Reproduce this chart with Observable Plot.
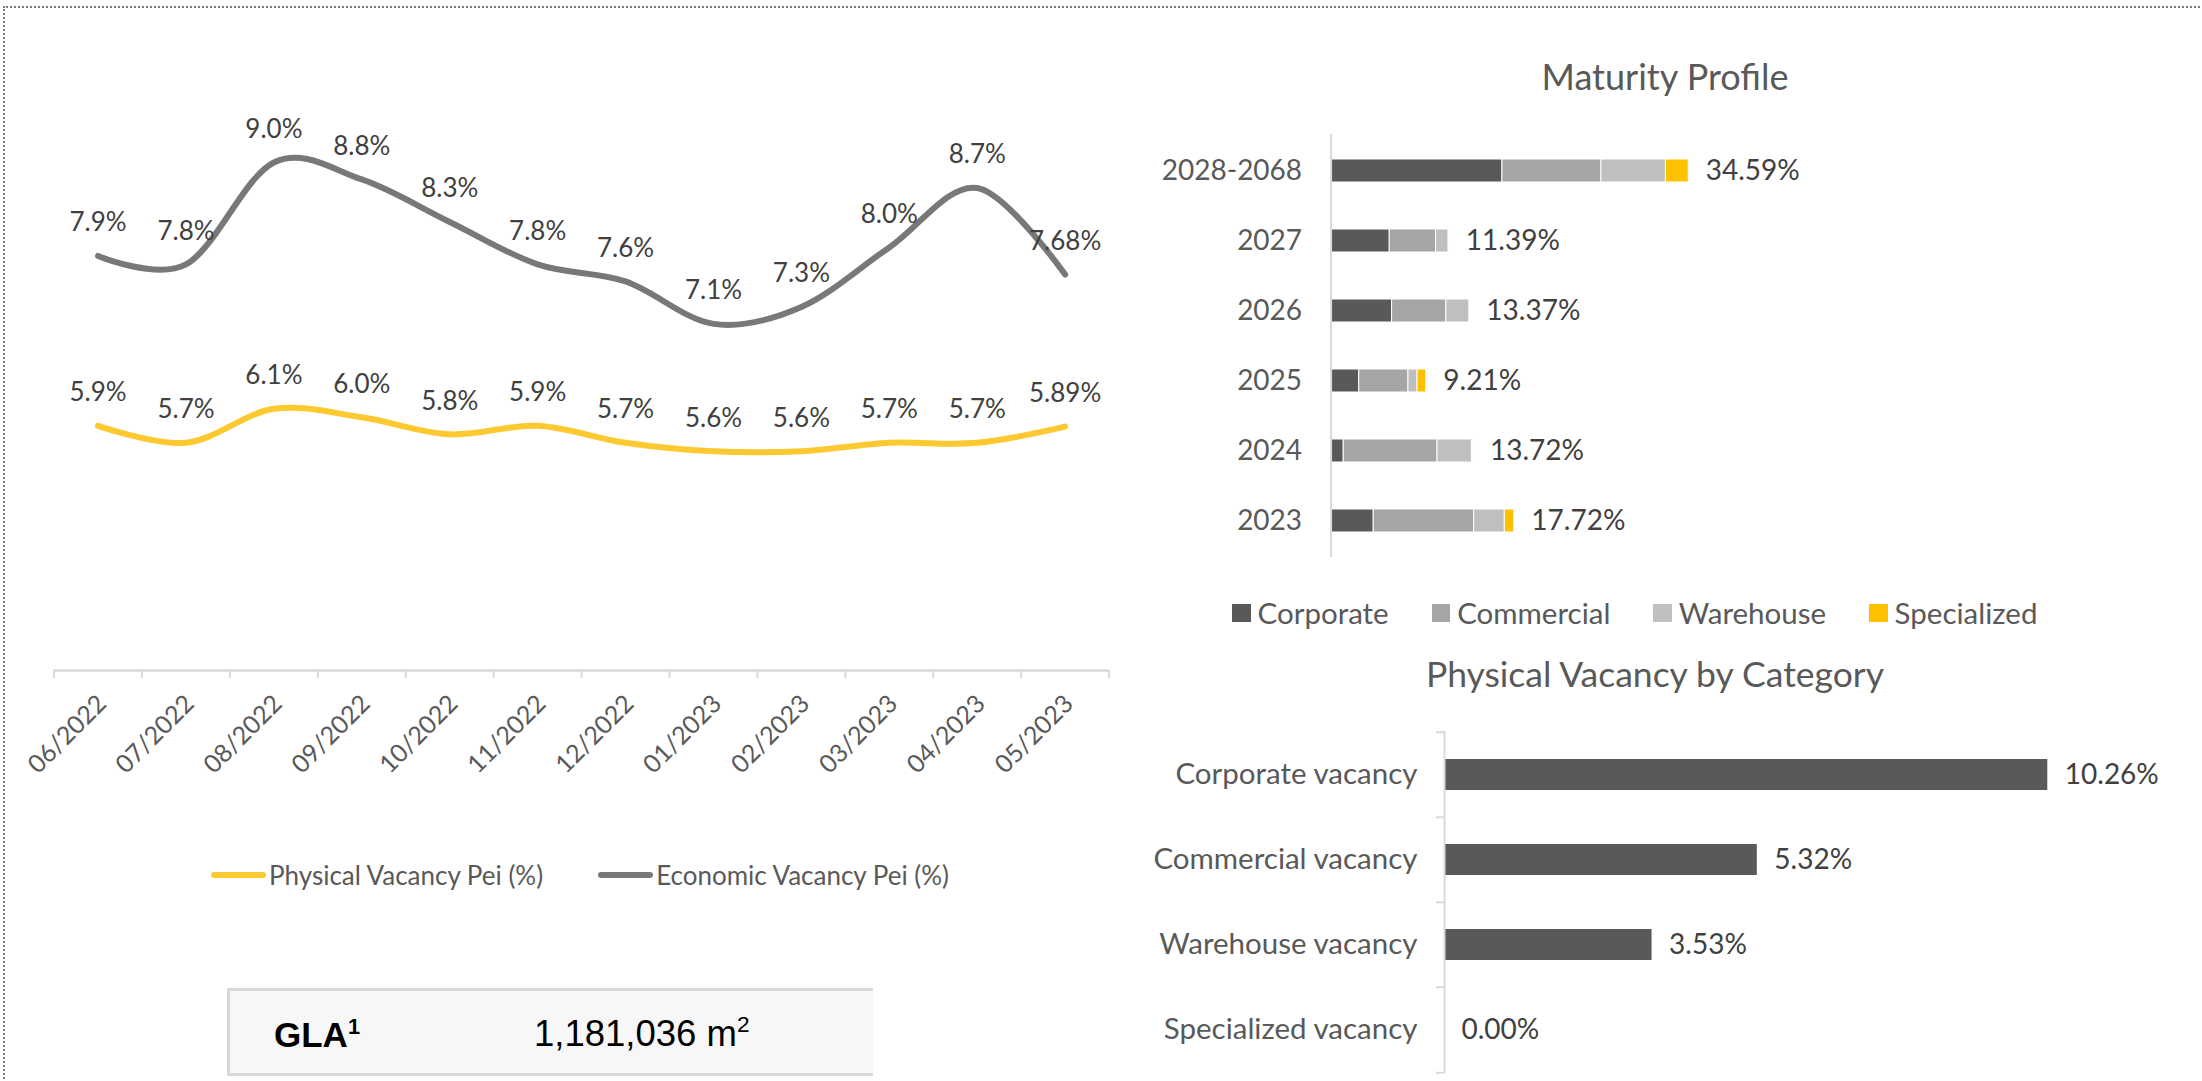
<!DOCTYPE html>
<html>
<head>
<meta charset="utf-8">
<script src="https://cdn.jsdelivr.net/npm/d3@7"></script>
<script src="https://cdn.jsdelivr.net/npm/@observablehq/plot@0.6"></script>
<style>
  html, body { margin: 0; padding: 0; background: #fff; }
  #root { position: relative; width: 2202px; height: 1081px; overflow: hidden; background: #fff; font-family: Lato, sans-serif; }
  .abs { position: absolute; }
  .frame { left: 3px; top: 6px; width: 2300px; height: 1200px; border-top: 2px dotted #7a7a7a; border-left: 2px dotted #7a7a7a; box-sizing: border-box; }
  .title { line-height: 1; color: #595959; text-align: center; white-space: nowrap; }
  .legend { display: flex; align-items: center; white-space: nowrap; }
  .legend .item { display: flex; align-items: center; }
  .gla { left: 227px; top: 988px; width: 646px; height: 88px; background: #f7f7f7; border-top: 3px solid #d9d9d9; border-left: 3px solid #d9d9d9; border-bottom: 3px solid #d9d9d9; box-sizing: border-box; }
  .glatxt { font-family: "Liberation Sans", Arial, sans-serif; font-size: 35px; line-height: 1; color: #000; white-space: nowrap; }
  .glatxt sup { font-size: 0.62em; line-height: 0; vertical-align: 0.62em; }
</style>
</head>
<body>
<div id="root">
  <div class="abs frame"></div>
  <div id="line" class="abs" style="left:0px; top:0px;"></div>
  <div id="lineLegend" class="abs legend" style="left:211px; top:862px; height:26px; gap:55px;"></div>
  <div class="abs gla"></div>
  <div class="abs glatxt" style="left:274px; top:1017px; font-weight:bold;">GLA<sup>1</sup></div>
  <div class="abs glatxt" style="left:534px; top:1016px; font-size:36.5px;">1,181,036 m<sup>2</sup></div>

  <div class="abs title" style="left:1465px; width:400px; top:58px; font-size:36px;">Maturity Profile</div>
  <div id="maturity" class="abs" style="left:1120px; top:100px;"></div>
  <div id="matLegend" class="abs legend" style="left:1232px; top:597px; height:32px; gap:43px;"></div>

  <div class="abs title" style="left:1405px; width:500px; top:656px; font-size:35.5px;">Physical Vacancy by Category</div>
  <div id="vacancy" class="abs" style="left:1120px; top:700px;"></div>
</div>
<script>
// ---------- Data ----------
const months = ["06/2022","07/2022","08/2022","09/2022","10/2022","11/2022","12/2022","01/2023","02/2023","03/2023","04/2023","05/2023"];
const physicalVacancy = [5.9, 5.7, 6.1, 6.0, 5.8, 5.9, 5.7, 5.6, 5.6, 5.7, 5.7, 5.89];
const economicVacancy = [7.9, 7.8, 9.0, 8.8, 8.3, 7.8, 7.6, 7.1, 7.3, 8.0, 8.7, 7.68];
const seriesNames = ["Physical Vacancy Pei (%)", "Economic Vacancy Pei (%)"];
const seriesColors = ["#fcc931", "#787878"];

const maturityYears = ["2028-2068", "2027", "2026", "2025", "2024", "2023"];
const maturityCats = ["Corporate", "Commercial", "Warehouse", "Specialized"];
const corporate   = [16.57, 5.67, 5.90, 2.72, 1.22, 4.12];
const commercial  = [ 9.57, 4.48, 5.25, 4.76, 9.07, 9.72];
const warehouse   = [ 6.24, 1.22, 2.22, 0.88, 3.33, 2.96];
const specialized = [ 2.21, 0.02, 0.00, 0.85, 0.10, 0.92];
const maturityTotals = [34.59, 11.39, 13.37, 9.21, 13.72, 17.72];
const maturityColors = ["#595959", "#a5a5a5", "#bfbfbf", "#ffc000"];

const vacancyCats = ["Corporate vacancy", "Commercial vacancy", "Warehouse vacancy", "Specialized vacancy"];
const vacancyValues = [10.26, 5.32, 3.53, 0.00];
const vacancyColor = "#595959";

// ---------- Helpers ----------
const fmtPct = v => (Math.abs(v * 10 - Math.round(v * 10)) < 1e-9 ? v.toFixed(1) : v.toFixed(2)) + "%";
const baseStyle = { fontFamily: "Lato, sans-serif", background: "transparent", overflow: "visible" };

// ---------- Line chart ----------
const idx = months.map((_, i) => i);
const boundaries = d3.range(-0.5, months.length, 1);
const lineData = [
  ...physicalVacancy.map((v, i) => ({ i, v, s: seriesNames[0] })),
  ...economicVacancy.map((v, i) => ({ i, v, s: seriesNames[1] }))
];
const yMin = 3.02;
const lineChart = Plot.plot({
  width: 1130, height: 800,
  marginLeft: 53.6, marginRight: 21.4, marginTop: 77, marginBottom: 130,
  x: { type: "linear", domain: [-0.5, months.length - 0.5] },
  y: { domain: [yMin, 10], axis: null },
  color: { domain: seriesNames, range: seriesColors },
  style: { ...baseStyle, fontSize: "26px" },
  marks: [
    Plot.ruleY([yMin], { stroke: "#d9d9d9", strokeWidth: 2.5 }),
    Plot.axisX({ ticks: boundaries, tickFormat: () => "", tickSize: 8, stroke: "#d9d9d9", strokeWidth: 2, label: null }),
    Plot.axisX({ ticks: idx, tickFormat: i => months[i], tickSize: 0, tickPadding: 29, tickRotate: -45,
                 textAnchor: "end", fill: "#595959", fontSize: 25, dx: 4, label: null }),
    Plot.line(lineData, { x: "i", y: "v", z: "s", stroke: "s", strokeWidth: 6, strokeLinecap: "round",
                          curve: d3.curveCatmullRom.alpha(0) }),
    Plot.text(lineData, { x: "i", y: "v", text: d => fmtPct(d.v), dy: -33, fill: "#404040", fontSize: 26 })
  ]
});
document.getElementById("line").appendChild(lineChart);

// line legend
const ll = document.getElementById("lineLegend");
seriesNames.forEach((name, k) => {
  const it = document.createElement("div");
  it.className = "item";
  it.innerHTML = `<span style="display:inline-block;width:55px;height:6px;border-radius:3px;background:${seriesColors[k]};margin-right:3px"></span>` +
                 `<span style="font-size:26px;line-height:1;color:#595959">${name}</span>`;
  ll.appendChild(it);
});

// ---------- Maturity profile ----------
const maturityData = [];
const matSeries = [corporate, commercial, warehouse, specialized];
maturityYears.forEach((yr, r) => {
  matSeries.forEach((arr, c) => maturityData.push({ year: yr, cat: maturityCats[c], v: arr[r] }));
});
const maturityChart = Plot.plot({
  width: 1082, height: 470,
  marginLeft: 210.6, marginRight: 457.8, marginTop: 34, marginBottom: 13,
  x: { domain: [0, 40], axis: null },
  y: { domain: maturityYears, paddingInner: 0.674, paddingOuter: 0.337, axis: null },
  color: { domain: maturityCats, range: maturityColors },
  style: { ...baseStyle, fontSize: "28px" },
  marks: [
    Plot.barX(maturityData, { x: "v", y: "year", fill: "cat", order: maturityCats, stroke: "#ffffff", strokeWidth: 1 }),
    Plot.ruleX([0], { stroke: "#d9d9d9", strokeWidth: 2 }),
    Plot.axisY({ tickSize: 0, tickPadding: 29, fill: "#595959", fontSize: 28, label: null }),
    Plot.text(maturityYears, { x: (d, i) => maturityTotals[i], y: d => d, text: (d, i) => maturityTotals[i].toFixed(2) + "%",
                               textAnchor: "start", dx: 17, fill: "#404040", fontSize: 28 })
  ]
});
document.getElementById("maturity").appendChild(maturityChart);

const ml = document.getElementById("matLegend");
maturityCats.forEach((name, k) => {
  const it = document.createElement("div");
  it.className = "item";
  it.innerHTML = `<span style="display:inline-block;width:18.5px;height:18px;background:${maturityColors[k]};margin-right:7px"></span>` +
                 `<span style="font-size:29.5px;line-height:1;color:#595959">${name}</span>`;
  ml.appendChild(it);
});

// ---------- Physical vacancy by category ----------
const vacStep = 342 / vacancyCats.length;
const vacancyChart = Plot.plot({
  width: 1082, height: 381,
  marginLeft: 324, marginRight: 52.4, marginTop: 31, marginBottom: 8,
  x: { domain: [0, 12], axis: null },
  y: { domain: vacancyCats, paddingInner: 0.638, paddingOuter: 0.319, axis: null },
  style: { ...baseStyle, fontSize: "28px" },
  marks: [
    Plot.barX(vacancyCats, { x: (d, i) => vacancyValues[i], y: d => d, fill: vacancyColor }),
    Plot.ruleX([0], { stroke: "#d9d9d9", strokeWidth: 2 }),
    Plot.ruleY(vacancyCats, { y: d => d, x1: 0, x2: 0, insetLeft: -8, dy: -vacStep / 2, stroke: "#d9d9d9", strokeWidth: 2 }),
    Plot.ruleY(vacancyCats.slice(-1), { y: d => d, x1: 0, x2: 0, insetLeft: -8, dy: vacStep / 2, stroke: "#d9d9d9", strokeWidth: 2 }),
    Plot.axisY({ tickSize: 0, tickPadding: 27, fill: "#595959", fontSize: 29.5, label: null }),
    Plot.text(vacancyCats, { x: (d, i) => vacancyValues[i], y: d => d, text: (d, i) => vacancyValues[i].toFixed(2) + "%",
                             textAnchor: "start", dx: 17, fill: "#404040", fontSize: 28 })
  ]
});
document.getElementById("vacancy").appendChild(vacancyChart);
</script>
</body>
</html>
